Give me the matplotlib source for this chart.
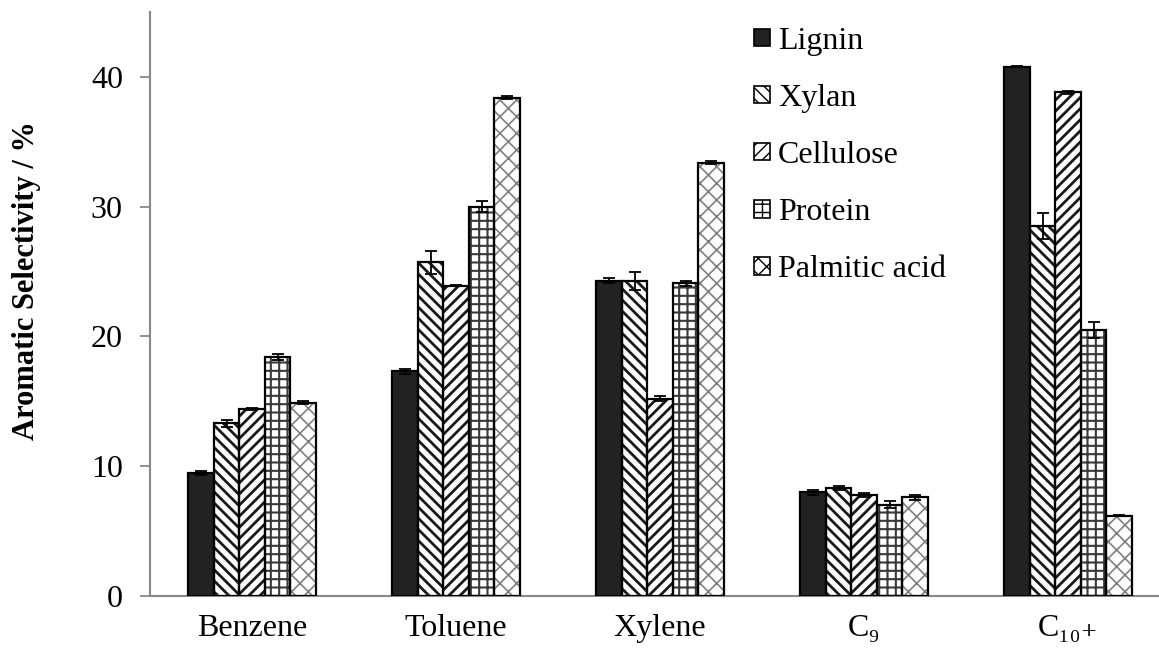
import numpy as np
import matplotlib
matplotlib.use("Agg")
import matplotlib.pyplot as plt
from matplotlib.patches import Patch

# values
categories = ["Benzene", "Toluene", "Xylene", "C\u2089", "C\u2081\u2080\u208a"]
series = ["Lignin", "Xylan", "Cellulose", "Protein", "Palmitic acid"]

lignin = [9.45, 17.3, 24.3, 8.0, 40.8]
xylan = [13.3, 25.7, 24.3, 8.3, 28.5]
cellulose = [14.4, 23.9, 15.2, 7.8, 38.8]
protein = [18.4, 30.0, 24.1, 7.05, 20.5]
palmitic = [14.9, 38.4, 33.4, 7.6, 6.2]

lignin_err = [0.15, 0.2, 0.2, 0.2, 0.05]
xylan_err = [0.3, 0.9, 0.7, 0.15, 1.0]
cellulose_err = [0.1, 0.05, 0.2, 0.15, 0.15]
protein_err = [0.25, 0.4, 0.2, 0.25, 0.6]
palmitic_err = [0.1, 0.1, 0.1, 0.2, 0.05]

values = [lignin, xylan, cellulose, protein, palmitic]
errors = [lignin_err, xylan_err, cellulose_err, protein_err, palmitic_err]

# look of each series: face, hatch, hatch colour, hatch line width
styles = [
    ("#222222", "", "#222222", 1.0),
    ("white", "\\\\\\", "#1a1a1a", 2.0),
    ("white", "///", "#1a1a1a", 2.0),
    ("white", "++", "#3a3a3a", 1.5),
    ("white", "xx", "#808080", 1.2),
]

plt.rcParams["font.family"] = ["Liberation Serif", "DejaVu Serif"]

fig = plt.figure(figsize=(11.59, 6.51), dpi=100)
ax = fig.add_axes([150 / 1159, 55 / 651, 1009 / 1159, 584 / 651])

x = np.arange(len(categories))
width = 0.125
handles = []
for j, (vals, errs, (face, hatch, hcol, hlw)) in enumerate(zip(values, errors, styles)):
    pos = x + (j - 2) * width
    with plt.rc_context({"hatch.linewidth": hlw}):
        # hatched fill, hatch takes the edge colour
        ax.bar(pos, vals, width, color=face, hatch=hatch, edgecolor=hcol, linewidth=0, zorder=2)
        handles.append(Patch(facecolor=face, hatch=hatch, edgecolor="black", linewidth=1.2))
    # black outline on top
    ax.bar(pos, vals, width, fill=False, edgecolor="black", linewidth=1.6, zorder=3)
    ax.errorbar(pos, vals, yerr=errs, fmt="none", ecolor="black", elinewidth=1.3,
                capsize=4.5, capthick=1.3, zorder=4)

ax.set_xlim(-0.5, (1159 - 252) / 204)
ax.set_ylim(0, 45)
ax.set_yticks([0, 10, 20, 30, 40])
ax.set_xticks(x)
ax.set_xticklabels(categories, fontsize=23)
ax.tick_params(axis="y", labelsize=23, length=7.5, width=1.3, color="#888888", pad=12)
ax.tick_params(axis="x", length=0, pad=13)

for s in ["top", "right"]:
    ax.spines[s].set_visible(False)
for s in ["left", "bottom"]:
    ax.spines[s].set_color("#888888")
    ax.spines[s].set_linewidth(1.5)

ax.set_ylabel("Aromatic Selectivity / %", fontsize=22, fontweight="bold")
ax.yaxis.set_label_coords(-0.108, 0.541)

fig.legend(handles, series, loc="upper left", bbox_to_anchor=(754 / 1159, 1 - 27 / 651),
           frameon=False, fontsize=23, handlelength=0.5, handleheight=0.45,
           handletextpad=0.25, labelspacing=0.88, borderaxespad=0, borderpad=0)

fig.savefig("out.png", dpi=100)
